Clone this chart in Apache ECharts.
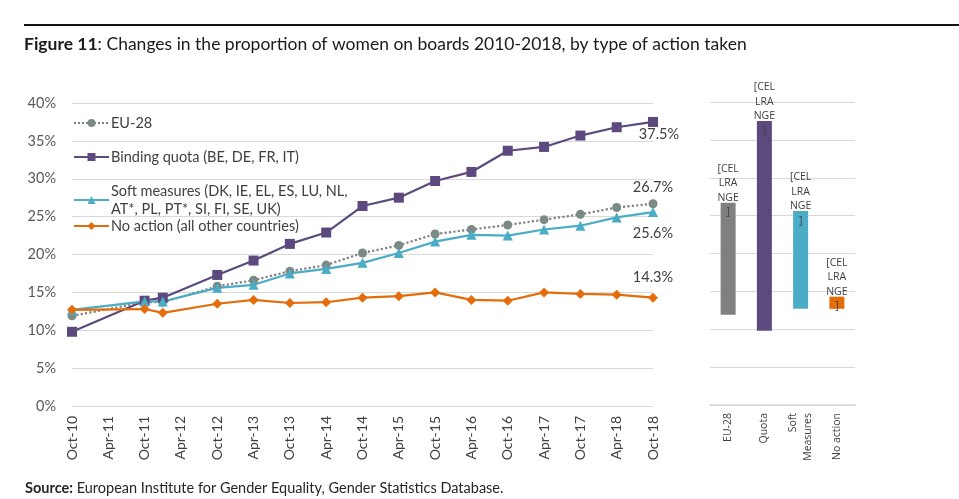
<!DOCTYPE html>
<html lang="en">
<head>
    <meta charset="UTF-8">
    <script src="https://cdn.jsdelivr.net/npm/echarts@6.0.0/dist/echarts.min.js"></script>
    <title>Women on boards 2010-2018</title>
    <style>
        html, body { margin: 0; padding: 0; background: #fff; }
        #chart { width: 959px; height: 499px; }
    </style>
</head>
<body>
<div id="chart"></div>
<script>
    // quarterly slots for the x axis, only Apr/Oct get a label
    var quarters = ['Oct-10', 'Jan-11', 'Apr-11', 'Jul-11', 'Oct-11', 'Jan-12', 'Apr-12', 'Jul-12',
        'Oct-12', 'Jan-13', 'Apr-13', 'Jul-13', 'Oct-13', 'Jan-14', 'Apr-14', 'Jul-14',
        'Oct-14', 'Jan-15', 'Apr-15', 'Jul-15', 'Oct-15', 'Jan-16', 'Apr-16', 'Jul-16',
        'Oct-16', 'Jan-17', 'Apr-17', 'Jul-17', 'Oct-17', 'Jan-18', 'Apr-18', 'Jul-18', 'Oct-18'];
    // dates where there is an observation
    var obsDates = ['Oct-10', 'Oct-11', 'Jan-12', 'Oct-12', 'Apr-13', 'Oct-13', 'Apr-14', 'Oct-14',
        'Apr-15', 'Oct-15', 'Apr-16', 'Oct-16', 'Apr-17', 'Oct-17', 'Apr-18', 'Oct-18'];

    var eu28     = [11.9, 13.7, 13.7, 15.8, 16.6, 17.8, 18.6, 20.2, 21.2, 22.7, 23.3, 23.9, 24.6, 25.3, 26.2, 26.7];
    var quota    = [9.8, 13.9, 14.3, 17.3, 19.2, 21.4, 22.9, 26.4, 27.5, 29.7, 30.9, 33.7, 34.2, 35.7, 36.8, 37.5];
    var soft     = [12.7, 13.8, 13.8, 15.6, 16.0, 17.5, 18.1, 18.9, 20.2, 21.7, 22.6, 22.5, 23.3, 23.8, 24.9, 25.6];
    var noAction = [12.7, 12.8, 12.3, 13.5, 14.0, 13.6, 13.7, 14.3, 14.5, 15.0, 14.0, 13.9, 15.0, 14.8, 14.7, 14.3];

    var seriesNames = ['EU-28', 'Binding quota (BE, DE, FR, IT)',
        'Soft measures (DK, IE, EL, ES, LU, NL,\nAT*, PL, PT*, SI, FI, SE, UK)',
        'No action (all other countries)'];

    // right panel: change 2010 -> 2018
    var changeCats = ['EU-28', 'Quota', 'Soft\nMeasures', 'No action'];
    var start2010 = [eu28[0], quota[0], soft[0], noAction[0]];
    var end2018 = [eu28[eu28.length - 1], quota[quota.length - 1], soft[soft.length - 1], noAction[noAction.length - 1]];

    var font = 'Lato';
    var colors = ['#7b8a85', '#5c4a7e', '#4bacc6', '#e46c0a'];
    var barColors = ['#808080', '#5c4a7e', '#4bacc6', '#e46c0a'];

    /** build [date, value] pairs, last point carries the % label */
    function toPairs(vals, labelPos, labelOffset) {
        return vals.map(function (v, i) {
            var item = { value: [obsDates[i], v] };
            if (i == vals.length - 1) {
                item.label = {
                    show: true, position: labelPos, offset: labelOffset,
                    formatter: v.toFixed(1) + '%',
                    fontFamily: font, fontSize: 14.5, color: '#404040'
                };
            }
            return item;
        });
    }

    var lineSeries = [
        { name: seriesNames[0], symbol: 'circle', symbolSize: 9, data: toPairs(eu28, 'top', [0, 1]),
          lineStyle: { type: 'dotted', width: 2.2, color: '#7f7f7f' } },
        { name: seriesNames[1], symbol: 'rect', symbolSize: 10, data: toPairs(quota, 'bottom', [6, -5]),
          lineStyle: { width: 2.2 } },
        { name: seriesNames[2], symbol: 'triangle', symbolSize: 10, data: toPairs(soft, 'bottom', [0, 4]),
          lineStyle: { width: 2.2 } },
        { name: seriesNames[3], symbol: 'diamond', symbolSize: 10, data: toPairs(noAction, 'top', [0, -3]),
          lineStyle: { width: 2.2 } }
    ].map(function (s, i) {
        s.type = 'line';
        s.xAxisIndex = 0;
        s.yAxisIndex = 0;
        s.itemStyle = { color: colors[i] };
        if (!s.lineStyle.color) s.lineStyle.color = colors[i];
        s.animation = false;
        return s;
    });

    // floating bars: invisible base + visible change
    var baseVals = start2010.map(function (v, i) { return Math.min(v, end2018[i]); });
    var diffVals = start2010.map(function (v, i) { return Math.abs(end2018[i] - v); });

    var barSeries = [
        { type: 'bar', xAxisIndex: 1, yAxisIndex: 1, stack: 'chg', barWidth: 15, silent: true,
          itemStyle: { color: 'transparent' }, data: baseVals, animation: false },
        { type: 'bar', xAxisIndex: 1, yAxisIndex: 1, stack: 'chg', barWidth: 15, animation: false,
          data: diffVals.map(function (v, i) { return { value: v, itemStyle: { color: barColors[i] } }; }),
          label: {
              show: true, position: 'top', offset: [0, 22],
              formatter: '[CEL\nLRA\nNGE\n]',
              fontFamily: 'Open Sans', fontSize: 10.5, lineHeight: 14.5, color: '#404040', align: 'center'
          } }
    ];

    // one legend per entry so the rows sit like the original
    var legendTops = [114, 148, 182, 217];
    var legends = seriesNames.map(function (n, i) {
        return {
            data: [n], left: 73, top: legendTops[i], orient: 'vertical', padding: 0,
            itemWidth: 35, itemHeight: 10, itemGap: 0, selectedMode: false,
            textStyle: { fontFamily: font, fontSize: 14.5, color: '#404040', lineHeight: 18, padding: [0, 0, 0, -3] }
        };
    });

    var myChart = echarts.init(document.getElementById('chart'));
    var option = {
        backgroundColor: '#fff',
        animation: false,
        title: [
            {
                text: '{b|Figure 11}: Changes in the proportion of women on boards 2010-2018, by type of action taken',
                left: 24, top: 35, padding: 0,
                textStyle: { fontFamily: font, fontSize: 17.5, fontWeight: 'normal', color: '#1a1a1a',
                    rich: { b: { fontFamily: font, fontSize: 17.5, fontWeight: 'bold', color: '#1a1a1a' } } }
            },
            {
                text: '{b|Source:} European Institute for Gender Equality, Gender Statistics Database.',
                left: 25, top: 481, padding: 0,
                textStyle: { fontFamily: font, fontSize: 14.5, fontWeight: 'normal', color: '#262626',
                    rich: { b: { fontFamily: font, fontSize: 14.5, fontWeight: 'bold', color: '#262626' } } }
            }
        ],
        graphic: [
            { type: 'rect', shape: { x: 24, y: 24, width: 935, height: 2 }, style: { fill: '#111' } }
        ],
        legend: legends,
        grid: [
            { left: 72, top: 103, width: 581, height: 303 },
            { left: 710, top: 102, width: 145, height: 303 }
        ],
        xAxis: [
            {
                type: 'category', gridIndex: 0, data: quarters, boundaryGap: false,
                axisLine: { show: false }, axisTick: { show: false },
                axisLabel: { interval: 1, rotate: 90, margin: 10, fontFamily: font, fontSize: 14, color: '#404040' }
            },
            {
                type: 'category', gridIndex: 1, data: changeCats,
                axisLine: { show: true, lineStyle: { color: '#d9d9d9', width: 1.5 } }, axisTick: { show: false },
                axisLabel: { interval: 0, rotate: 90, margin: 8, fontFamily: 'Open Sans', fontSize: 10.5,
                    color: '#404040', lineHeight: 15 }
            }
        ],
        yAxis: [
            {
                type: 'value', gridIndex: 0, min: 0, max: 40, interval: 5,
                axisLine: { show: false }, axisTick: { show: false },
                splitLine: { lineStyle: { color: '#d9d9d9', width: 1.2 } },
                axisLabel: { formatter: '{value}%', margin: 16, fontFamily: font, fontSize: 14.5, color: '#595959' }
            },
            {
                type: 'value', gridIndex: 1, min: 0, max: 40, interval: 5,
                axisLine: { show: false }, axisTick: { show: false },
                splitLine: { lineStyle: { color: '#d9d9d9', width: 1.2 } },
                axisLabel: { show: false }
            }
        ],
        series: lineSeries.concat(barSeries)
    };
    myChart.setOption(option);
</script>
</body>
</html>
